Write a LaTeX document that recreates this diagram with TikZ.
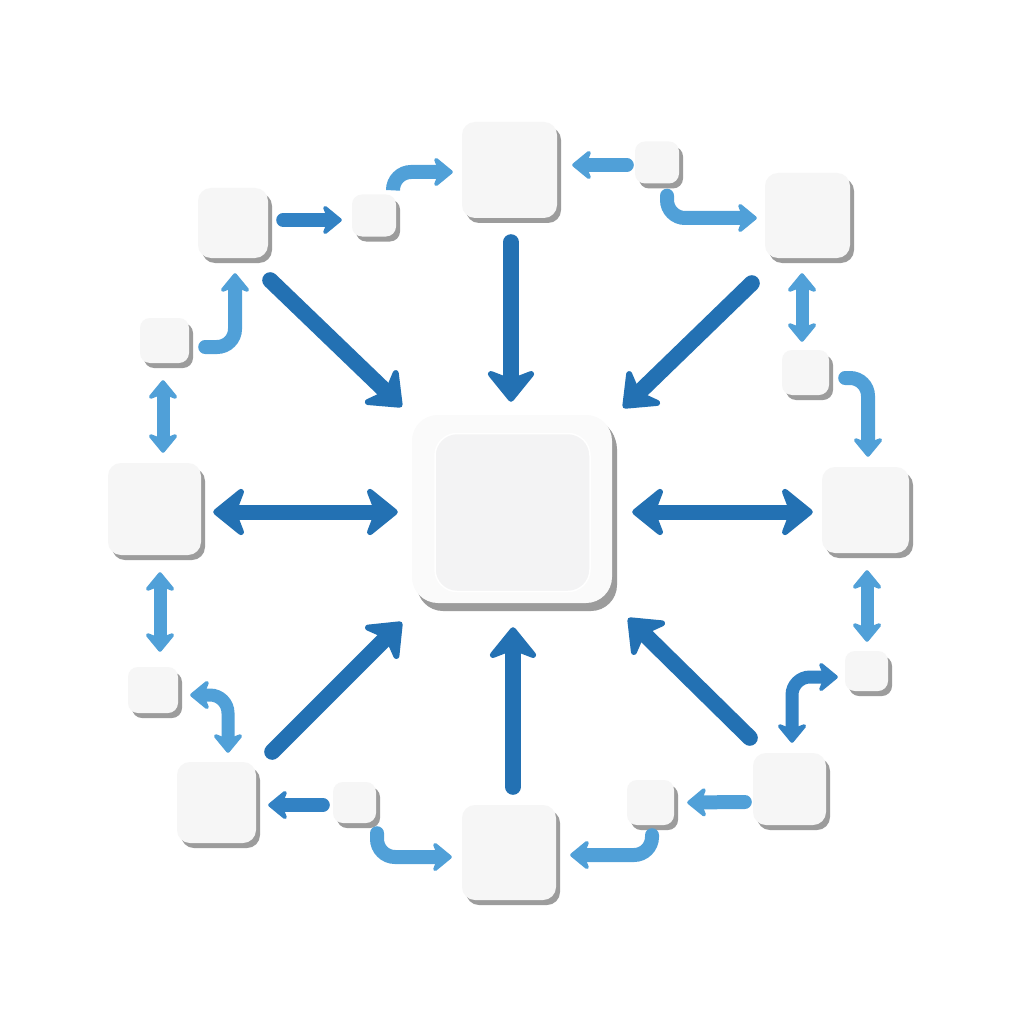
\documentclass[tikz,border=0pt]{standalone}
\usetikzlibrary{arrows.meta,calc,shadows}
\definecolor{darkarr}{HTML}{2371B3}
\definecolor{midarr}{HTML}{3282C4}
\definecolor{lightarr}{HTML}{50A0D8}
\definecolor{boxfill}{HTML}{F6F6F6}
\definecolor{cfill}{HTML}{FAFAFA}
\definecolor{cinner}{HTML}{F3F3F4}
\definecolor{shadowgray}{HTML}{9C9C9C}
\tikzset{
  Big/.tip={Stealth[length=36pt,width=58pt,inset=11pt,round,line width=6pt]},
  Lit/.tip={Stealth[length=22pt,width=36pt,inset=7pt,round,line width=4pt]},
  box/.style={fill=boxfill, rounded corners=10pt, inner sep=0pt, draw=none,
    general shadow={fill=shadowgray, shadow xshift=4pt, shadow yshift=-5pt}},
  bigbox/.style={box, rounded corners=13pt},
  bigarr/.style={draw=darkarr, line width=16pt, line cap=round, -Big},
  bigdbl/.style={draw=darkarr, line width=15pt, Big-Big},
  litarr/.style={draw=lightarr, line width=14pt, line cap=round, -Lit, rounded corners=18pt},
  litdbl/.style={draw=lightarr, line width=13pt, Lit-Lit, rounded corners=18pt},
}
\begin{document}
\begin{tikzpicture}[x=1pt,y=-1pt]
\useasboundingbox (0,0) rectangle (1024,1024);
\fill[white] (0,0) rectangle (1024,1024);
% center
\node[box, fill=cfill, rounded corners=26pt, minimum width=200pt, minimum height=188pt,
  general shadow={fill=shadowgray, shadow xshift=5pt, shadow yshift=-8pt}] (c) at (512,509) {};
\node[fill=cinner, draw=white, line width=1.5pt, rounded corners=22pt, minimum width=155pt, minimum height=158pt, inner sep=0pt] (ci) at (512.5,512.5) {};
% big outer boxes
\node[bigbox, minimum width=95pt, minimum height=96pt] (t) at (509.5,170) {};
\node[bigbox, minimum width=70pt, minimum height=70pt] (tl) at (233,223) {};
\node[bigbox, minimum width=85pt, minimum height=85pt] (tr) at (807.5,215.5) {};
\node[bigbox, minimum width=87pt, minimum height=86pt] (r) at (865.5,510) {};
\node[bigbox, minimum width=73pt, minimum height=72pt] (br) at (789.5,789) {};
\node[bigbox, minimum width=94pt, minimum height=95pt] (b) at (509,852.5) {};
\node[bigbox, minimum width=79pt, minimum height=81pt] (bl) at (216.5,802.5) {};
\node[bigbox, minimum width=93pt, minimum height=92pt] (l) at (154.5,509) {};
% small boxes
\node[box, minimum width=44pt, minimum height=42pt] (s1) at (374,215.5) {};
\node[box, minimum width=44pt, minimum height=42pt] (s2) at (657,162.5) {};
\node[box, minimum width=47pt, minimum height=45pt] (s3) at (805.5,372.5) {};
\node[box, minimum width=43pt, minimum height=40pt] (s4) at (866.5,671) {};
\node[box, minimum width=47pt, minimum height=45pt] (s5) at (650.5,802.5) {};
\node[box, minimum width=43pt, minimum height=41pt] (s6) at (354.5,802.5) {};
\node[box, minimum width=50pt, minimum height=46pt] (s7) at (153,690) {};
\node[box, minimum width=49pt, minimum height=45pt] (s8) at (164.5,340.5) {};
% big arrows to/from center
\draw[bigarr] ($(tl.south east)+(2,22)$) -- ($(c.north west)+(-10,-8)$);
\draw[bigarr] ($(t.south)+(1.5,24)$) -- ($(c.north)+(-1,-13)$);
\draw[bigarr] ($(tr.south west)+(-13,25)$) -- ($(c.north east)+(11,-7)$);
\draw[bigdbl] ($(l.east)+(12,3)$) -- ($(c.west)+(-14,3)$);
\draw[bigdbl] ($(c.east)+(20,3)$) -- ($(r.west)+(-9,2)$);
\draw[bigarr] ($(bl.north east)+(16,-10)$) -- ($(c.south west)+(-10,19)$);
\draw[bigarr] ($(b.north)+(4,-18)$) -- ($(c.south)+(1,24)$);
\draw[bigarr] ($(br.north west)+(-3,-15)$) -- ($(c.south east)+(16,15)$);
% ring arrows
\draw[litarr, draw=midarr] ($(tl.east)+(15,-3)$) -- ($(s1.west)+(-10,4.5)$);
\draw[litarr] ($(s1.north)+(19,-5)$) |- ($(t.west)+(-9,2)$);
\draw[litarr] ($(s2.west)+(-8,2.5)$) -- ($(t.east)+(15,-5)$);
\draw[litarr] ($(s2.south)+(10,12)$) |- ($(tr.west)+(-8,2.5)$);
\draw[litdbl] ($(tr.south)+(-5.5,15)$) -- ($(s3.north)+(-3.5,-8)$);
\draw[litarr] ($(s3.east)+(16,5.5)$) -| ($(r.north)+(2.5,-10)$);
\draw[litdbl] ($(r.south)+(1.5,17)$) -- ($(s4.north)+(0.5,-9)$);
\draw[litdbl, draw=midarr] ($(br.north)+(2.5,-10)$) |- ($(s4.west)+(-7,6)$);
\draw[litarr] ($(br.west)+(-8,13)$) -- ($(s5.east)+(13,0)$);
\draw[litarr] ($(s5.south)+(1.5,10)$) |- ($(b.east)+(14,2.5)$);
\draw[litarr] ($(s6.south)+(22.5,10)$) |- ($(b.west)+(-10,4.5)$);
\draw[litarr, draw=midarr] ($(s6.west)+(-10,2.5)$) -- ($(bl.east)+(12,2.5)$);
\draw[litdbl] ($(bl.north)+(11.5,-9)$) |- ($(s7.east)+(12,5)$);
\draw[litdbl] ($(l.south)+(5.5,17)$) -- ($(s7.north)+(7,-15)$);
\draw[litdbl] ($(s8.south)+(-1.5,17)$) -- ($(l.north)+(8.5,-10)$);
\draw[litarr] ($(s8.east)+(16,6.5)$) -| ($(tl.south)+(2,15)$);
\end{tikzpicture}
\end{document}
